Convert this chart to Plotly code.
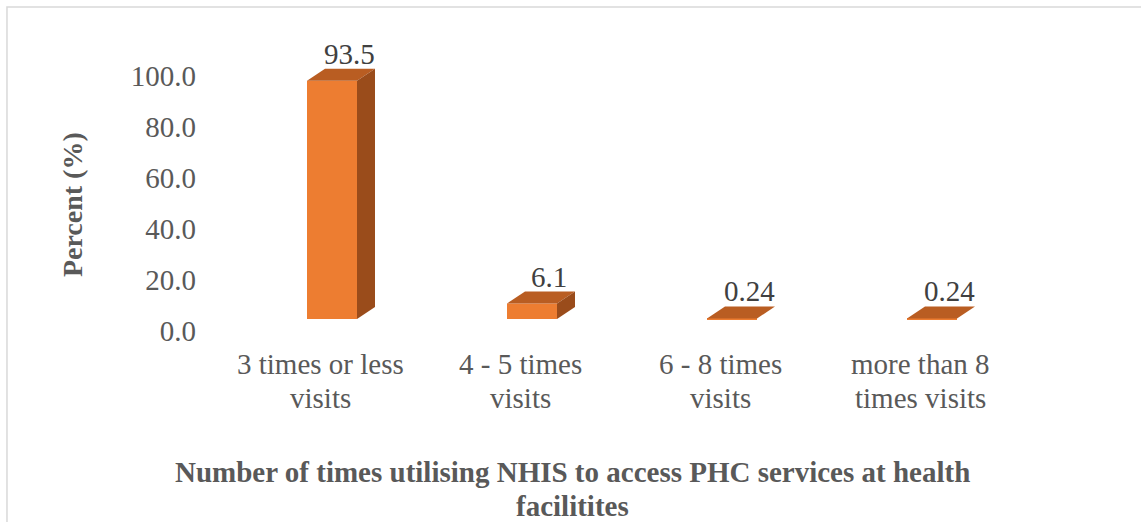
import plotly.graph_objects as go

categories = [["3 times or less", "visits"], ["4 - 5 times", "visits"],
              ["6 - 8 times", "visits"], ["more than 8", "times visits"]]
values = [93.5, 6.1, 0.24, 0.24]
value_labels = ["93.5", "6.1", "0.24", "0.24"]
y_ticks = [0, 20, 40, 60, 80, 100]
x_title = ["Number of times utilising NHIS to access PHC services at health", "facilitites"]
y_title = "Percent (%)"

FRONT = "#ED7D31"
TOP = "#B95D22"
SIDE = "#9A4C1B"
FONT = "Liberation Serif"
FS = 29
LINE = 34

# 3D look parameters (axis units)
floor = 4.7      # front face base sits below back wall
dx = 0.09        # depth in x (category units)
dy = 4.7         # depth in y (value units)
shift = 0.06     # bar centre offset from category centre
width = 0.25

xs = [i + shift for i in range(len(values))]

fig = go.Figure()
fig.add_trace(go.Bar(x=xs, y=values, base=[floor] * len(values), width=width,
                     marker=dict(color=FRONT, line=dict(width=0)),
                     hoverinfo="skip", showlegend=False))

for x, v in zip(xs, values):
    x0, x1 = x - width / 2, x + width / 2
    top = floor + v
    fig.add_trace(go.Scatter(x=[x0, x1, x1 + dx, x0 + dx, x0],
                             y=[top, top, top + dy, top + dy, top],
                             fill="toself", fillcolor=TOP, mode="lines",
                             line=dict(width=0, color=TOP),
                             hoverinfo="skip", showlegend=False))
    fig.add_trace(go.Scatter(x=[x1, x1 + dx, x1 + dx, x1, x1],
                             y=[floor, floor + dy, top + dy, top, floor],
                             fill="toself", fillcolor=SIDE, mode="lines",
                             line=dict(width=0, color=SIDE),
                             hoverinfo="skip", showlegend=False))

for x, v, lab in zip(xs, values, value_labels):
    fig.add_annotation(x=x + 0.085, y=floor + v + dy, text=lab, showarrow=False,
                       yanchor="middle", yshift=15,
                       font=dict(family=FONT, size=FS, color="#404040"))

# category labels (two lines each, Word-like line spacing)
for i, lines in enumerate(categories):
    for k, line in enumerate(lines):
        fig.add_annotation(x=i, xref="x", y=0, yref="paper", text=line,
                           showarrow=False, yanchor="middle",
                           yshift=-24 - k * LINE,
                           font=dict(family=FONT, size=FS, color="#595959"))

for k, line in enumerate(x_title):
    fig.add_annotation(xref="paper", yref="paper", x=0.4537, y=0,
                       text="<b>" + line + "</b>", showarrow=False,
                       xanchor="center", yanchor="middle", yshift=-132 - k * LINE,
                       font=dict(family=FONT, size=FS, color="#595959"))

fig.add_annotation(xref="paper", yref="paper", x=0, y=0.462, xshift=-128,
                   text="<b>" + y_title + "</b>", textangle=-90, showarrow=False,
                   xanchor="center", yanchor="middle",
                   font=dict(family=FONT, size=FS - 1, color="#595959"))

fig.update_layout(
    width=1141, height=522,
    margin=dict(l=200, r=121, t=48, b=182),
    paper_bgcolor="white", plot_bgcolor="white",
    font=dict(family=FONT, size=FS, color="#595959"),
    xaxis=dict(range=[-0.6, 3.5], showgrid=False, zeroline=False,
               showline=False, ticks="", showticklabels=False),
    yaxis=dict(range=[-3.5, 111], tickvals=y_ticks, tickformat=".1f",
               showgrid=False, zeroline=False, showline=False,
               ticks="", ticklabelstandoff=3,
               tickfont=dict(family=FONT, size=FS, color="#595959")),
    shapes=[dict(type="rect", xref="paper", yref="paper",
                 x0=-0.2354, x1=1.3, y0=-0.8, y1=1.140,
                 line=dict(color="#D9D9D9", width=1.5), layer="below")],
)

fig.write_html("out.html")
